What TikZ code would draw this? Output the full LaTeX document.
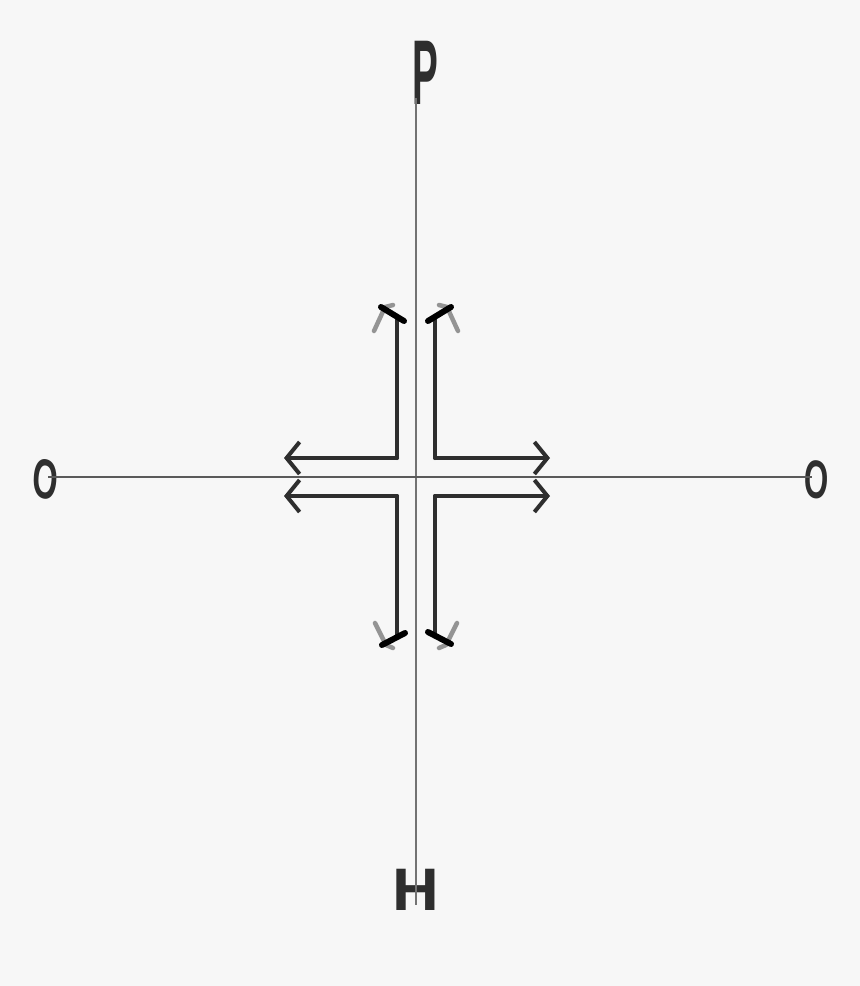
\documentclass[tikz,border=0pt]{standalone}
\usepackage{fontspec}
\setmainfont{Liberation Sans}
\usetikzlibrary{arrows.meta}
\definecolor{bg}{HTML}{F7F7F7}
\definecolor{ink}{HTML}{2E2E2E}
\definecolor{axis}{HTML}{5A5A5A}
\definecolor{smudge}{HTML}{8A8A8A}
\tikzset{
  axisline/.style={draw=axis, line width=2.4pt},
  letter/.style={inner sep=0pt, text=ink, font=\bfseries},
  armline/.style={draw=ink, line width=4pt, line join=round, line cap=round},
  barbtip/.style={armline, -{Straight Barb[length=13pt,width=32pt]}},
  tipbar/.style={draw=black, line width=6pt, line cap=round},
  ghost/.style={draw=smudge, line width=4.5pt, line cap=round, line join=round, opacity=0.9}
}
\begin{document}
\begin{tikzpicture}[x=1pt,y=-1pt]
\fill[bg] (0,0) rectangle (860,986);
\useasboundingbox (0,0) rectangle (860,986);
% letters
\node[letter, anchor=base, xscale=0.42, font=\bfseries\fontsize{92}{92}\selectfont] (P) at (425,104) {P};
\node[letter, anchor=base, xscale=0.58, rotate=-8, font=\bfseries\fontsize{56}{56}\selectfont] (OL) at (44,499) {O};
\node[letter, anchor=base, xscale=0.58, rotate=-5, font=\bfseries\fontsize{54}{54}\selectfont] (OR) at (816,498) {O};
\node[letter, anchor=base, xscale=1.08, font=\bfseries\fontsize{60}{60}\selectfont] (H) at (416,910) {H};
% axes
\coordinate (vtop) at (416,98);
\coordinate (vbot) at (416,905);
\coordinate (hl) at (48,477);
\coordinate (hr) at (812,477);
\draw[axisline, draw=axis!85] (vtop) -- (vbot);
\draw[axisline] (hl) -- (hr);
% corners
\coordinate (cTL) at (397,458);
\coordinate (cTR) at (435,458);
\coordinate (cBL) at (397,496);
\coordinate (cBR) at (435,496);
% arm ends
\coordinate (tTLv) at (397,316);
\coordinate (tTLh) at (284,458);
\coordinate (tTRv) at (435,316);
\coordinate (tTRh) at (550,458);
\coordinate (tBLv) at (397,636);
\coordinate (tBLh) at (284,496);
\coordinate (tBRv) at (435,636);
\coordinate (tBRh) at (550,496);
% horizontal arms with barbs
\draw[barbtip] (cTL) -- (tTLh);
\draw[barbtip] (cBL) -- (tBLh);
\draw[barbtip] (cTR) -- (tTRh);
\draw[barbtip] (cBR) -- (tBRh);
% vertical arms
\draw[armline] (cTL) -- (tTLv);
\draw[armline] (cTR) -- (tTRv);
\draw[armline] (cBL) -- (tBLv);
\draw[armline] (cBR) -- (tBRv);
% ghost chevrons at vertical tips
\draw[ghost] (374,331) -- (385,307) -- (393,305);
\draw[ghost] (458,331) -- (447,307) -- (439,305);
\draw[ghost] (375,623) -- (386,645) -- (393,648);
\draw[ghost] (457,623) -- (446,645) -- (439,648);
% tip bars
\draw[tipbar] (381,307) -- (404,321);
\draw[tipbar] (451,307) -- (428,321);
\draw[tipbar] (382,645) -- (405,633);
\draw[tipbar] (451,644) -- (428,632);
\end{tikzpicture}
\end{document}
